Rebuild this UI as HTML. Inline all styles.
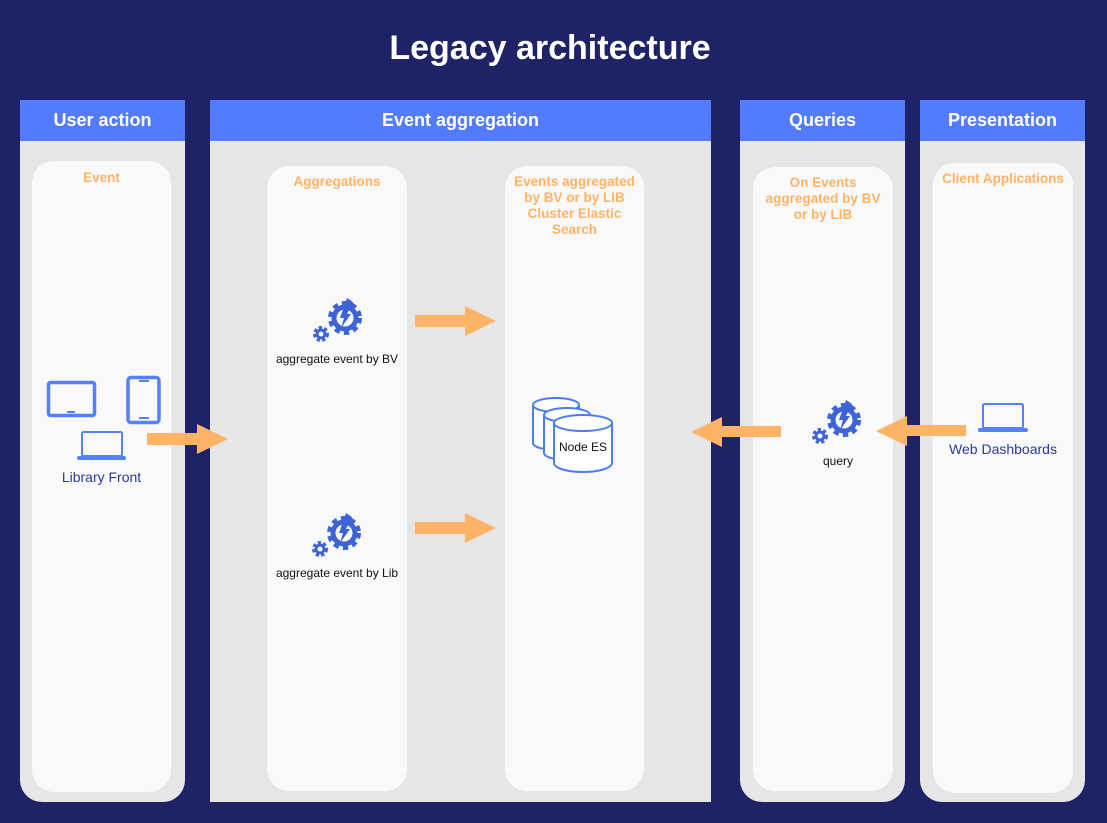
<!DOCTYPE html>
<html><head><meta charset="utf-8"><style>
*{margin:0;padding:0;box-sizing:border-box}
body{width:1107px;height:823px;background:#1d2366;position:relative;overflow:hidden;font-family:"Liberation Sans",sans-serif}
.a{position:absolute}
.lane{background:#e6e6e6;border-radius:0 0 22px 22px}
.hdr{position:absolute;left:0;right:0;top:0;height:41px;background:#527bfd;color:#fff;font-weight:bold;font-size:18px;text-align:center;line-height:41px}
.box{position:absolute;background:#f9f9f9;border-radius:22px;color:#ffb366;font-weight:bold;font-size:13.5px;text-align:center;line-height:16px}
.lbl{position:absolute;font-size:12px;color:#111;text-align:center}
</style></head><body>
<div class="a" style="left:0;top:27px;width:1100px;text-align:center;color:#fff;font-weight:bold;font-size:34px;line-height:42px">Legacy architecture</div>

<div class="a lane" style="left:20px;top:100px;width:165px;height:702px"><div class="hdr">User action</div></div>
<div class="a lane" style="left:210px;top:100px;width:501px;height:702px;border-radius:0"><div class="hdr">Event aggregation</div></div>
<div class="a lane" style="left:740px;top:100px;width:165px;height:702px"><div class="hdr">Queries</div></div>
<div class="a lane" style="left:920px;top:100px;width:165px;height:702px"><div class="hdr">Presentation</div></div>

<div class="box" style="left:32px;top:161px;width:139px;height:631px;padding-top:9px">Event</div>
<div class="box" style="left:267px;top:166px;width:140px;height:625px;padding-top:8px">Aggregations</div>
<div class="box" style="left:505px;top:166px;width:139px;height:625px;padding:8px 4px 0">Events aggregated by BV or by LIB Cluster Elastic Search</div>
<div class="box" style="left:753px;top:167px;width:140px;height:624px;padding:8px 6px 0">On Events aggregated by BV or by LIB</div>
<div class="box" style="left:933px;top:163px;width:140px;height:630px;padding-top:8px">Client Applications</div>

<div class="lbl" style="left:267px;top:352px;width:140px">aggregate event by BV</div>
<div class="lbl" style="left:267px;top:566px;width:140px">aggregate event by Lib</div>
<div class="lbl" style="left:778px;top:454px;width:120px">query</div>
<div class="lbl" style="left:32px;top:469px;width:139px;font-size:14px;color:#2a3a9a">Library Front</div>
<div class="lbl" style="left:933px;top:441px;width:140px;font-size:14px;color:#2a3a9a">Web Dashboards</div>

<svg class="a" style="left:0;top:0" width="1107" height="823">
<defs>
<g id="gear">
<circle cx="0" cy="0" r="14" fill="none" stroke="#3d63d6" stroke-width="6" stroke-dasharray="5 4"/>
<circle cx="0" cy="0" r="11" fill="none" stroke="#3d63d6" stroke-width="5"/>
<circle cx="-24" cy="16" r="6" fill="none" stroke="#3d63d6" stroke-width="4" stroke-dasharray="3 2.2"/>
<circle cx="-24" cy="16" r="4" fill="none" stroke="#3d63d6" stroke-width="3"/>
<polygon points="2,-20 8,-16 2,-4 6,-4 -4,10 -1,0 -5,0" fill="#3d63d6"/>
</g>
</defs>
<use href="#gear" x="345" y="318"/>
<use href="#gear" x="344" y="533"/>
<use href="#gear" x="844" y="420"/>
<g fill="#ffb366">
<rect x="147" y="433" width="52" height="12"/><polygon points="197,424 228,439 197,454"/>
<rect x="415" y="315" width="52" height="12"/><polygon points="465,306 496,321 465,336"/>
<rect x="415" y="522" width="52" height="12"/><polygon points="465,513 496,528 465,543"/>
<rect x="720" y="426" width="61" height="11"/><polygon points="722,417 691,432 722,447"/>
<rect x="905" y="425" width="61" height="11"/><polygon points="907,416 876,431 907,446"/>
</g>
<g fill="none" stroke="#5282f5" stroke-width="3.5">
<rect x="48.5" y="382.5" width="46" height="33" rx="2"/>
<rect x="128" y="377.5" width="31" height="45" rx="3"/>
</g>
<g fill="#5282f5">
<rect x="67" y="411" width="8" height="2"/>
<rect x="139" y="380" width="10" height="2"/>
<rect x="139" y="417" width="10" height="2"/>
</g>
<rect x="82" y="432" width="40" height="24" rx="1.5" fill="none" stroke="#5282f5" stroke-width="2"/>
<rect x="77" y="456" width="49" height="4" rx="2" fill="#5282f5"/>
<rect x="983" y="404" width="40" height="24" rx="1.5" fill="none" stroke="#5282f5" stroke-width="2"/>
<rect x="978" y="428" width="50" height="4" rx="2" fill="#5282f5"/>
<g fill="#fff" stroke="#4d7cf7" stroke-width="2">
<path d="M533,405 v38 a23,7 0 0 0 46,0 v-38"/><ellipse cx="556" cy="405" rx="23" ry="7"/>
<path d="M544,415 v38 a23,7 0 0 0 46,0 v-38"/><ellipse cx="567" cy="415" rx="23" ry="7"/>
<path d="M554,423 v40 a29,9 0 0 0 58,0 v-40"/><ellipse cx="583" cy="423" rx="29" ry="8"/>
</g>
<text x="583" y="451" font-family="Liberation Sans" font-size="12" text-anchor="middle" fill="#111">Node ES</text>
</svg>
</body></html>
